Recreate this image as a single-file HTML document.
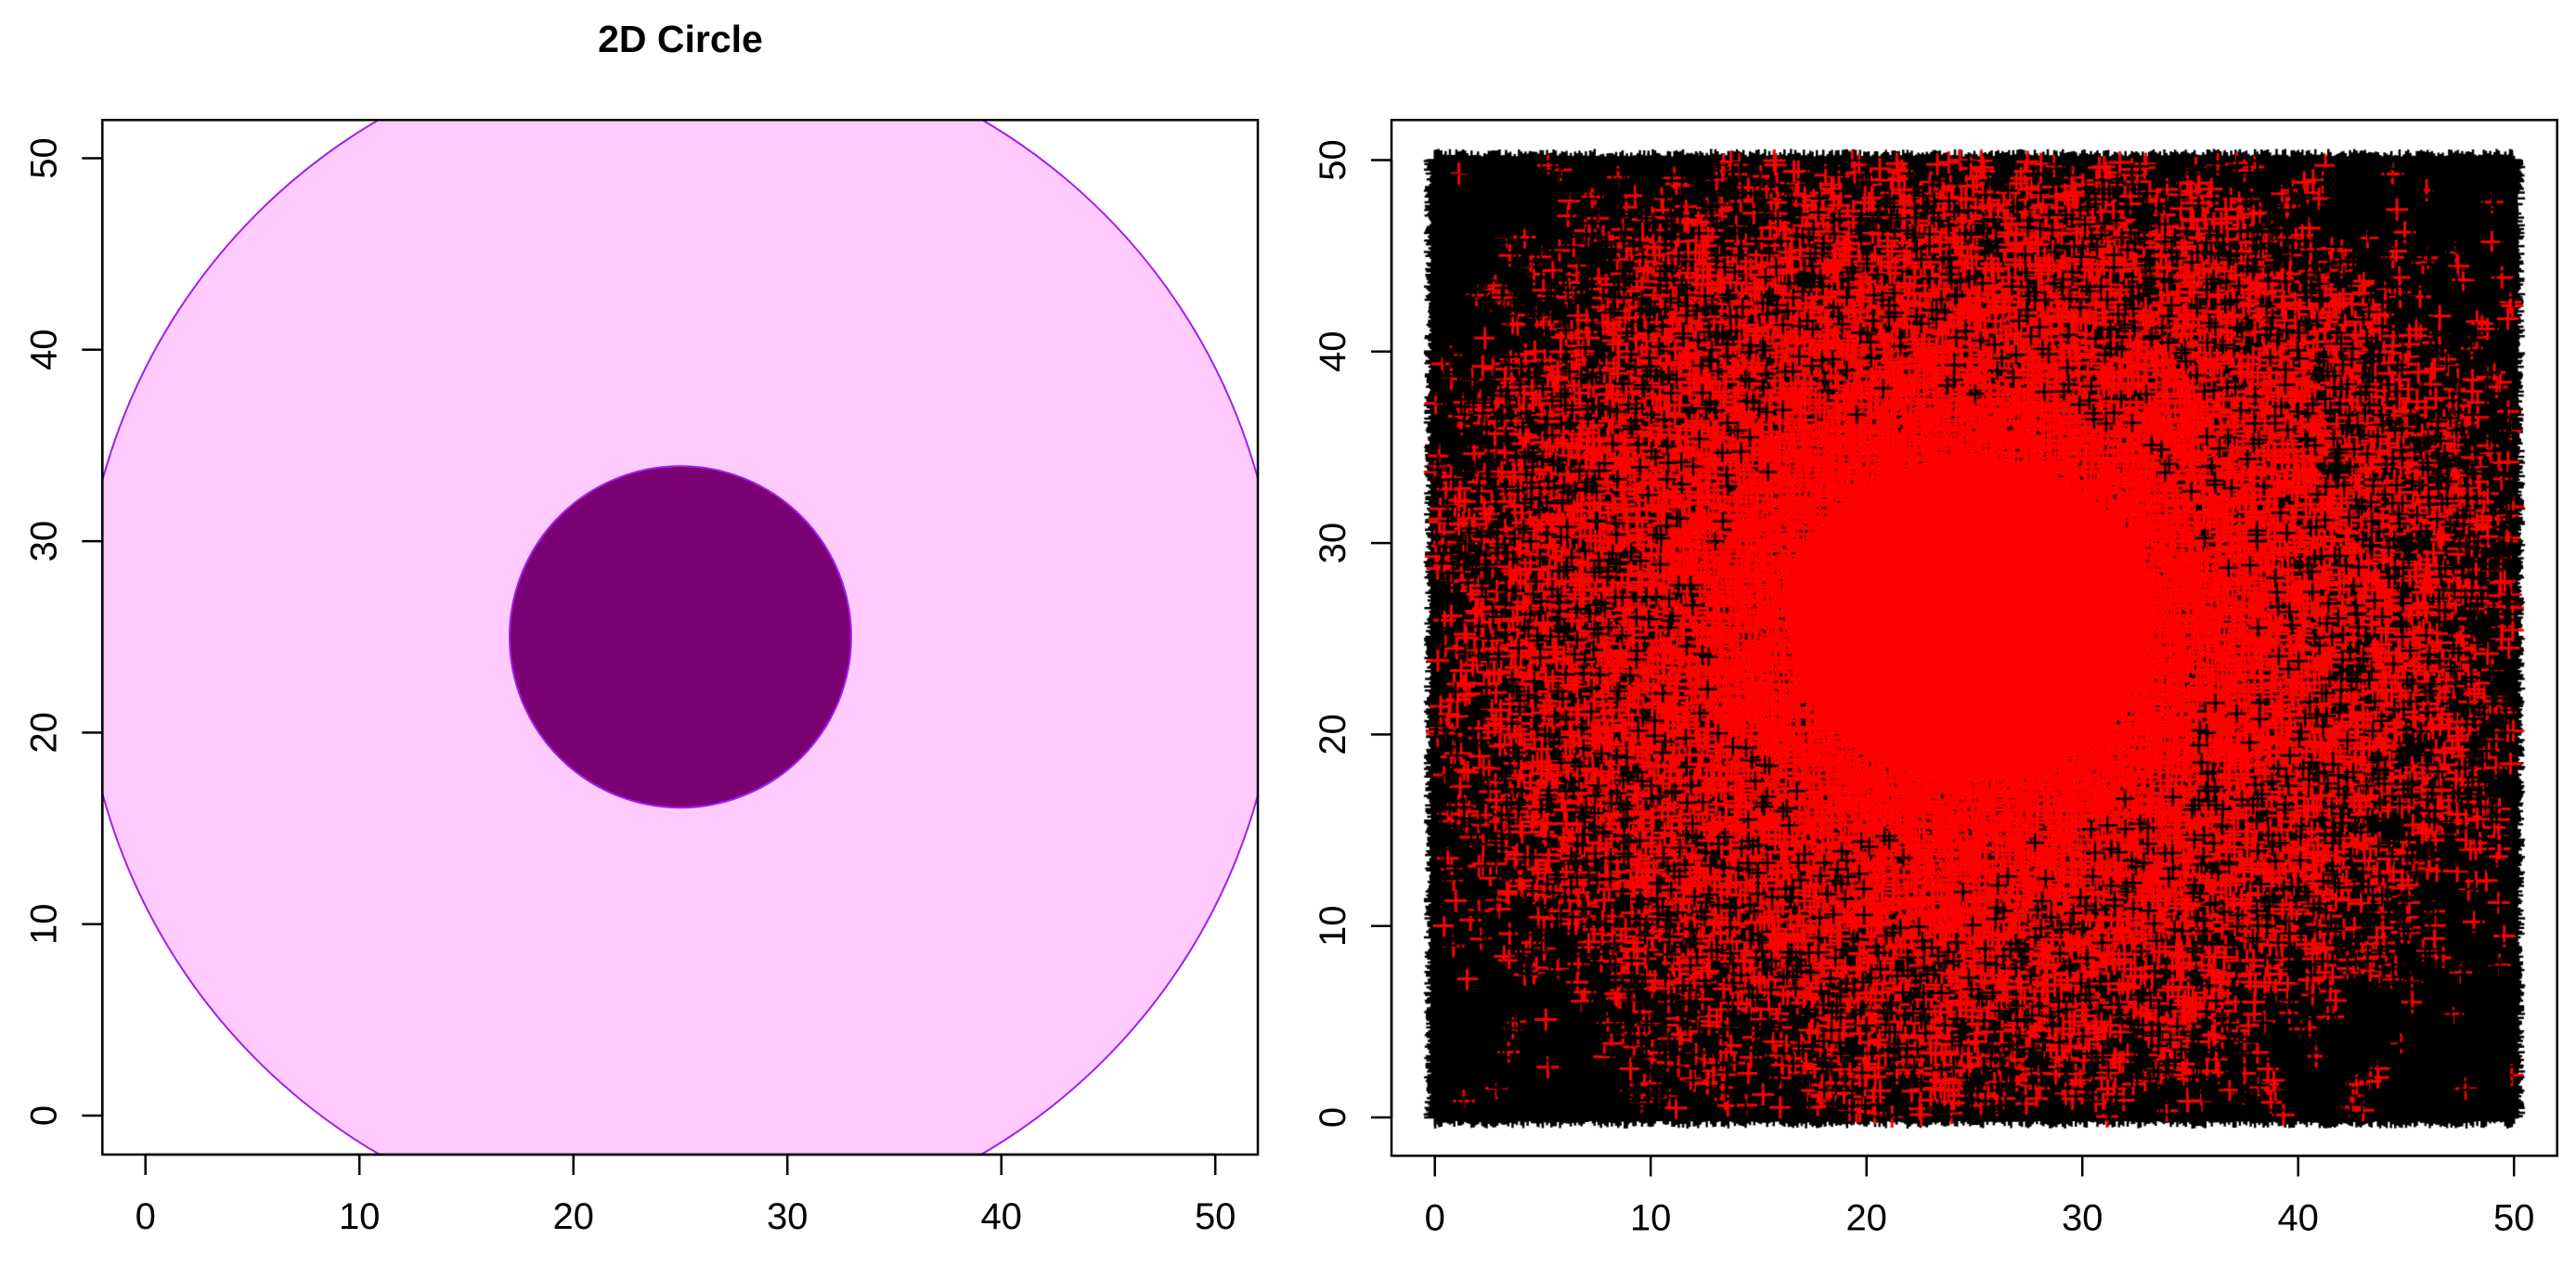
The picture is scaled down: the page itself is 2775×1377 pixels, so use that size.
<!DOCTYPE html>
<html><head><meta charset="utf-8">
<style>
html,body{margin:0;padding:0;background:#fff;}
body{width:2775px;height:1377px;overflow:hidden;position:relative;font-family:"Liberation Sans",Arial,sans-serif;}
svg{position:absolute;left:0;top:0;}
canvas{position:absolute;left:0;top:0;}
</style></head>
<body>
<svg id="left" width="2775" height="1377">
  <text x="733" y="56" font-size="41" font-weight="bold" text-anchor="middle" font-family="Liberation Sans, sans-serif">2D Circle</text>
  <defs><clipPath id="lclip"><rect x="110.3" y="129.3" width="1244.7" height="1114.7"/></clipPath></defs>
  <g clip-path="url(#lclip)" id="circles"></g>
  <rect x="110.3" y="129.3" width="1244.7" height="1114.7" fill="none" stroke="#000" stroke-width="2.5"/>
  <g id="laxes"></g>
</svg>
<canvas id="scatter" width="2775" height="1377"></canvas>
<svg id="right" width="2775" height="1377">
  <rect x="1499" y="129.3" width="1255.7" height="1116" fill="none" stroke="#000" stroke-width="2.5"/>
  <g id="raxes"></g>
</svg>
<script>
// data
const xTicks = [0,10,20,30,40,50];
const yTicks = [0,10,20,30,40,50];
const circleCenter = [25,25];
const circleRadiiPx = [645,184];
const circleFills = ["#FFCBFF","#7B0073"];
const ringRadii = [0,8.5,10.5,12.5,14.5,16.5,18.5,20.5,22.5,24.5,27,31,40];
const redDensity = [1,1,0.92,0.8,0.68,0.58,0.5,0.42,0.34,0.22,0.09,0.02,0];

const NS="http://www.w3.org/2000/svg";
function mk(tag,attrs,parent){const e=document.createElementNS(NS,tag);for(const k in attrs)e.setAttribute(k,attrs[k]);parent.appendChild(e);return e;}
const L={x0:156.7,xs:23.05,y0:1202,ys:20.63,bottom:1244,left:110.3};
const lx=v=>L.x0+v*L.xs, ly=v=>L.y0-v*L.ys;
const R={x0:1545.7,xs:23.25,y0:1204,ys:20.63,bottom:1245.5,left:1499};
const rx=v=>R.x0+v*R.xs, ry=v=>R.y0-v*R.ys;

const cg=document.getElementById('circles');
circleRadiiPx.forEach((r,i)=>{
  const c=mk('circle',{cx:lx(circleCenter[0]),cy:ly(circleCenter[1]),r:r,fill:circleFills[i],stroke:"#A020F0","stroke-width":2},cg);
  
  
});

function axes(gid,A,fx,fy){
  const g=document.getElementById(gid);
  const xa=mk('g',{},g);
  
  
  mk('line',{x1:fx(xTicks[0]),x2:fx(xTicks[xTicks.length-1]),y1:A.bottom,y2:A.bottom,stroke:"#000","stroke-width":2.5},xa);
  xTicks.forEach(t=>{
    mk('line',{x1:fx(t),x2:fx(t),y1:A.bottom,y2:A.bottom+22,stroke:"#000","stroke-width":2.5},xa);
    const tx=mk('text',{x:fx(t),y:A.bottom+80,"font-size":40,"text-anchor":"middle"},xa);
    tx.textContent=t;
    
    
  });
  const ya=mk('g',{},g);
  
  
  mk('line',{x1:A.left,x2:A.left,y1:fy(yTicks[0]),y2:fy(yTicks[yTicks.length-1]),stroke:"#000","stroke-width":2.5},ya);
  yTicks.forEach(t=>{
    mk('line',{x1:A.left,x2:A.left-22,y1:fy(t),y2:fy(t),stroke:"#000","stroke-width":2.5},ya);
    const px=A.left-50;
    const tx=mk('text',{x:px,y:fy(t),"font-size":40,"text-anchor":"middle",transform:`rotate(-90 ${px} ${fy(t)})`},ya);
    tx.textContent=t;
    
    
  });
}
axes('laxes',L,lx,ly);
axes('raxes',R,rx,ry);

const ctx=document.getElementById('scatter').getContext('2d');
function hash(i,j,s){let h=(i*374761393+j*668265263+s*2147483647)|0;h=(h^(h>>>13))*1274126177;h=h^(h>>>16);return ((h>>>0)%100000)/100000;}
function dens(r){for(let k=1;k<ringRadii.length;k++){if(r<=ringRadii[k]){const t=(r-ringRadii[k-1])/(ringRadii[k]-ringRadii[k-1]);return redDensity[k-1]+(redDensity[k]-redDensity[k-1])*t;}}return 0;}
function cross(x,y,s){ctx.moveTo(x-s,y);ctx.lineTo(x+s,y);ctx.moveTo(x,y-s);ctx.lineTo(x,y+s);}
ctx.fillStyle="#000";
ctx.fillRect(rx(0),ry(50),rx(50)-rx(0),ry(0)-ry(50));
ctx.strokeStyle="#000";ctx.lineWidth=2.5;ctx.beginPath();
for(let k=0;k<=500;k++){const v=k/10;
  cross(rx(v),ry(50)+hash(k,1,3)*8,12);cross(rx(v),ry(0)-hash(k,2,3)*8,12);
  cross(rx(0)+hash(k,3,3)*8,ry(v),12);cross(rx(50)-hash(k,4,3)*8,ry(v),12);}
ctx.stroke();
const cx0=24.8, cy0=26;
ctx.fillStyle="#FF0000";ctx.beginPath();
ctx.ellipse(rx(cx0),ry(cy0),ringRadii[1]*R.xs,ringRadii[1]*R.ys,0,0,Math.PI*2);ctx.fill();
ctx.strokeStyle="#FF0000";ctx.lineWidth=3;ctx.beginPath();
const step=0.32;
for(let i=0;i*step<=50;i++)for(let j=0;j*step<=50;j++){
  const x=i*step+(hash(i,j,1)-0.5)*step, y=j*step+(hash(i,j,2)-0.5)*step;
  if(x<0||x>50||y<0||y>50)continue;
  const r=Math.hypot(x-cx0,y-cy0);
  if(hash(i,j,5)<dens(r)) cross(rx(x),ry(y),12);
}
ctx.stroke();
ctx.strokeStyle="#000";ctx.lineWidth=2.5;ctx.beginPath();
for(let i=0;i*step<=50;i++)for(let j=0;j*step<=50;j++){
  const x=i*step+(hash(i,j,7)-0.5)*step, y=j*step+(hash(i,j,8)-0.5)*step;
  if(x<0||x>50||y<0||y>50)continue;
  const r=Math.hypot(x-cx0,y-cy0);
  const d=dens(r);
  if(d<0.85 && hash(i,j,9)<(1-d)*0.25) cross(rx(x),ry(y),10);
}
ctx.stroke();
</script>
</body></html>
